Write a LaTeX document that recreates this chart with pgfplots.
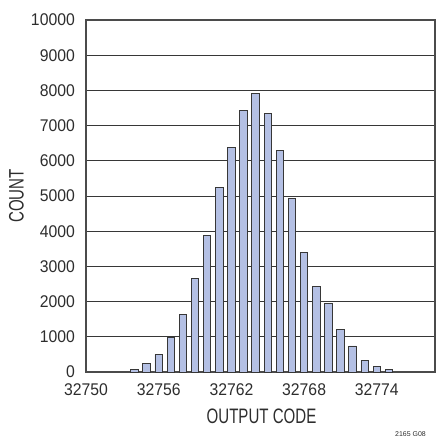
\documentclass[border=0pt]{standalone}
\usepackage{fontspec}
\setmainfont{Liberation Sans}
\newfontfamily\tickfont[FakeStretch=0.93]{Liberation Sans}
\newfontfamily\labfont[FakeStretch=0.72]{Liberation Sans}
\usepackage{pgfplots}
\pgfplotsset{compat=1.18}
\definecolor{barfill}{RGB}{180,192,228}
\definecolor{txt}{RGB}{45,45,45}
\definecolor{gridc}{RGB}{55,55,55}
\begin{document}
\begin{tikzpicture}
\begin{axis}[
  scale only axis,
  width=349bp, height=352bp,
  xmin=32750, xmax=32778.8,
  ymin=0, ymax=10000,
  xtick={32750,32756,32762,32768,32774},
  ytick={0,1000,...,10000},
  major tick length=0pt,
  ymajorgrids,
  grid style={gridc, line width=0.9bp},
  axis line style={gridc!90!white, line width=1.3bp},
  /pgf/number format/assume math mode=true,
  /pgf/number format/1000 sep={},
  scaled y ticks=false, scaled x ticks=false,
  tick label style={font=\tickfont\fontsize{17}{17}\selectfont, text=txt, inner sep=0pt},
  yticklabel style={xshift=-11bp},
  xticklabel style={yshift=-11bp},
  xlabel={OUTPUT CODE}, ylabel={COUNT},
  label style={font=\labfont\fontsize{21}{21}\selectfont, text=txt, inner sep=0pt},
  xlabel style={at={(axis description cs:0.5,0)}, anchor=center, yshift=-44bp, xshift=1bp},
  ylabel style={at={(axis description cs:0,0.5)}, anchor=center, yshift=69.5bp},
  clip=false,
]
\addplot[ybar, bar width=0.62, fill=barfill, draw=gridc, line width=0.9bp] coordinates {
(32754,80) (32755,250) (32756,500) (32757,990) (32758,1630) (32759,2670)
(32760,3880) (32761,5245) (32762,6375) (32763,7425) (32764,7915) (32765,7340)
(32766,6300) (32767,4925) (32768,3390) (32769,2425) (32770,1950) (32771,1220)
(32772,740) (32773,340) (32774,170) (32775,70)
};
\coordinate (SW) at (rel axis cs:0,0);
\coordinate (NE) at (rel axis cs:1,1);
\coordinate (SE) at (rel axis cs:1,0);
\end{axis}
\node[anchor=north west, inner sep=0pt, font=\fontsize{7}{7}\selectfont, text=txt] at ([xshift=-40bp,yshift=-59bp]SE) {2165 G08};
\pgfresetboundingbox
\path[use as bounding box] ([xshift=-86bp,yshift=-64bp]SW) rectangle ([xshift=1bp,yshift=20bp]NE);
\end{tikzpicture}
\end{document}
